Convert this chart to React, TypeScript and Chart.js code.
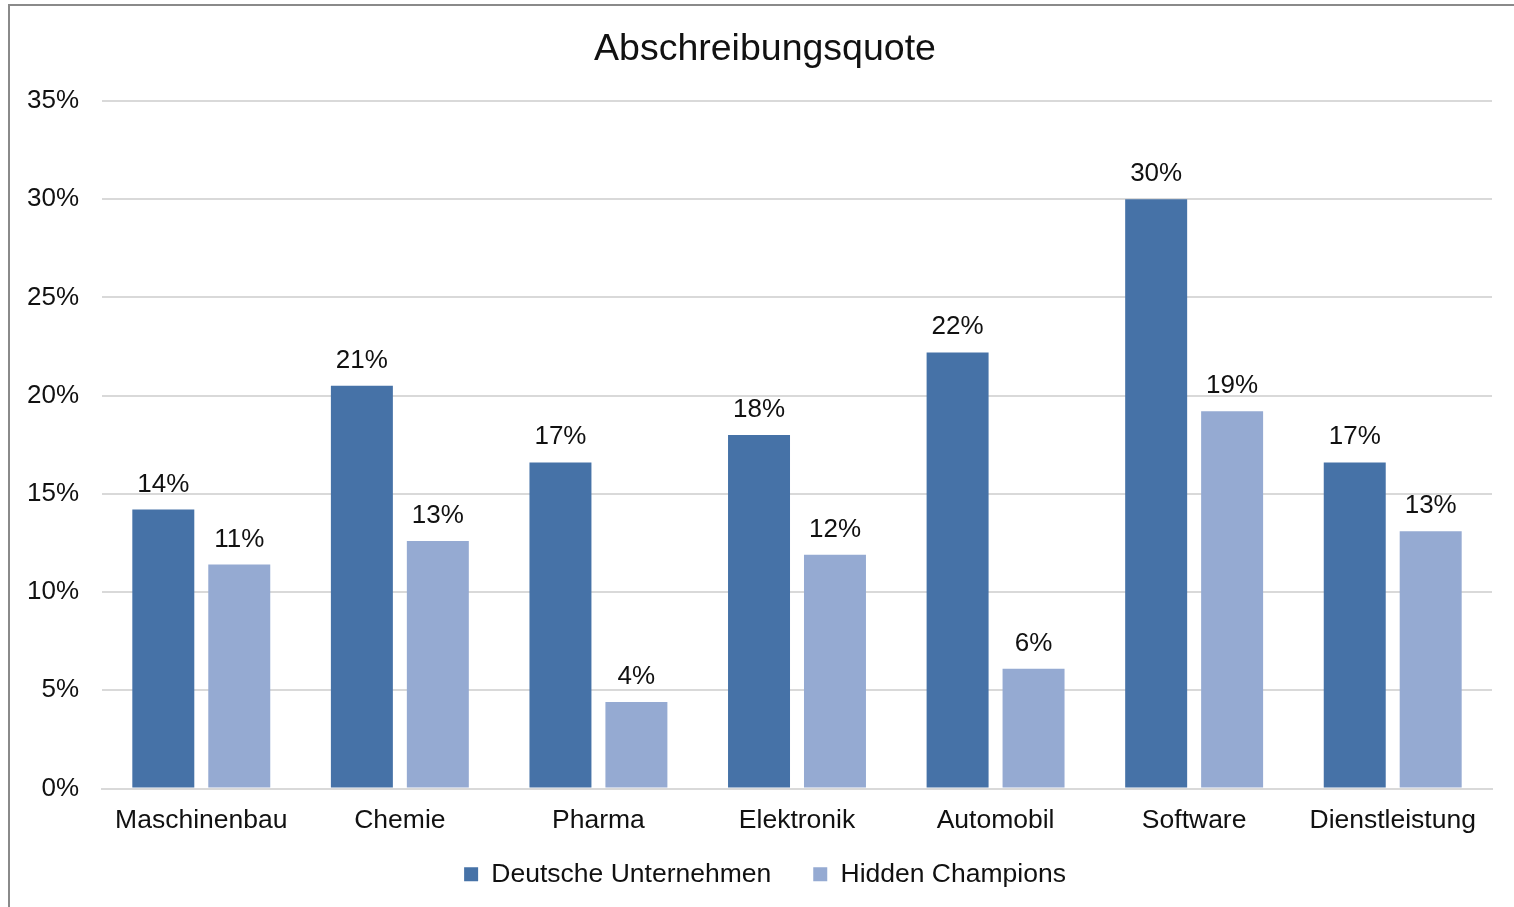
import React, { useEffect, useRef } from "react";
import { Chart, registerables } from "chart.js";

Chart.register(...registerables);

const categories = ["Maschinenbau", "Chemie", "Pharma", "Elektronik", "Automobil", "Software", "Dienstleistung"];
const deutscheUnternehmen = [14.2, 20.5, 16.6, 18.0, 22.2, 30.0, 16.6];
const hiddenChampions = [11.4, 12.6, 4.4, 11.9, 6.1, 19.2, 13.1];
const yTicksMax = 35;
const yTickStep = 5;

const FONT = "'Liberation Sans', Arial, Helvetica, sans-serif";
const DARK = "#4672A7";
const LIGHT = "#95AAD2";

const dataLabelPlugin = {
  id: "dataLabels",
  afterDatasetsDraw(chart: any) {
    const ctx = chart.ctx;
    ctx.save();
    ctx.font = `26px ${FONT}`;
    ctx.fillStyle = "#111";
    ctx.textAlign = "center";
    ctx.textBaseline = "alphabetic";
    chart.data.datasets.forEach((ds: any, di: number) => {
      const meta = chart.getDatasetMeta(di);
      meta.data.forEach((bar: any, i: number) => {
        const v = ds.data[i];
        ctx.fillText(Math.round(v) + "%", bar.x, bar.y - 18);
      });
    });
    ctx.restore();
  },
};

// centre title and legend over the full framed area, and lift the legend a little
const placeBlocksPlugin = {
  id: "placeBlocks",
  afterLayout(chart: any) {
    if (chart.titleBlock) chart.titleBlock.left = 38;
    if (chart.legend) {
      const lg = chart.legend;
      const h = lg.bottom - lg.top;
      lg.left = 38;
      lg.top = 819;
      lg.bottom = 819 + h;
    }
  },
};

export default function App() {
  const ref = useRef<HTMLCanvasElement>(null);
  useEffect(() => {
    if (!ref.current) return;
    const chart = new Chart(ref.current, {
      type: "bar",
      data: {
        labels: categories,
        datasets: [
          {
            label: "Deutsche Unternehmen",
            data: deutscheUnternehmen,
            backgroundColor: DARK,
            categoryPercentage: 0.765,
            barPercentage: 0.816,
          },
          {
            label: "Hidden Champions",
            data: hiddenChampions,
            backgroundColor: LIGHT,
            categoryPercentage: 0.765,
            barPercentage: 0.816,
          },
        ],
      },
      options: {
        responsive: false,
        maintainAspectRatio: false,
        animation: false,
        layout: { padding: { left: 16, right: 22, top: 0, bottom: -10 } },
        plugins: {
          title: {
            display: true,
            text: "Abschreibungsquote",
            color: "#111",
            font: { family: FONT, size: 37.5, weight: "normal" },
            padding: { top: 27, bottom: 29 },
          },
          legend: {
            position: "bottom",
            labels: {
              color: "#111",
              font: { family: FONT, size: 26.5 },
              boxWidth: 14,
              boxHeight: 14,
              padding: 42,
            },
          },
          tooltip: { enabled: false },
        },
        scales: {
          x: {
            grid: { display: false },
            border: { display: true, color: "#d9d9d9", width: 2 },
            ticks: {
              color: "#111",
              font: { family: FONT, size: 26.5 },
              padding: 8,
              maxRotation: 0,
              autoSkip: false,
            },
            afterFit(scale: any) {
              scale.height = 50;
            },
          },
          y: {
            min: 0,
            max: yTicksMax,
            grid: { color: "#d9d9d9", lineWidth: 2, drawTicks: false },
            border: { display: false },
            ticks: {
              stepSize: yTickStep,
              color: "#111",
              font: { family: FONT, size: 26 },
              padding: 23,
              callback: (v: any) => v + "%",
            },
            afterFit(scale: any) {
              scale.width = 86;
            },
          },
        },
      },
      plugins: [dataLabelPlugin, placeBlocksPlugin],
    });
    return () => chart.destroy();
  }, []);

  return (
    <div style={{ position: "fixed", left: 0, top: 0, width: 1514, height: 907, overflow: "hidden", background: "#fff" }}>
      <div
        style={{
          position: "absolute",
          left: 8,
          top: 4,
          width: 1530,
          height: 930,
          border: "2px solid #8a8a8a",
          boxSizing: "border-box",
        }}
      />
      <canvas ref={ref} width={1514} height={907} style={{ position: "absolute", left: 0, top: 0, width: 1514, height: 907 }} />
    </div>
  );
}
